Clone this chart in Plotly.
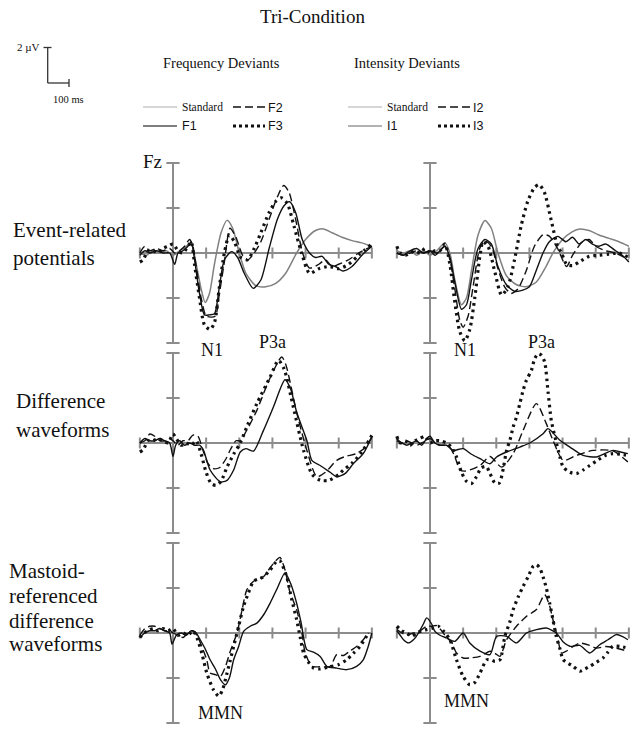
import plotly.graph_objects as go

W, H = 637, 730

# ---------------- DATA (time in ms, amplitude in µV) ----------------
# Row 1: event-related potentials, frequency deviants
erp_freq_std_t = [-100,-80,-60,-40,-20,0,20,40,55,70,85,97,110,125,145,163,180,200,220,250,280,310,340,373,400,430,454,480,510,540,570,600]
erp_freq_std_v = [0,-0.1,0.1,0,0.1,-0.1,0.1,0.3,0.4,-0.5,-1.6,-2.2,-1.8,-0.5,0.9,1.45,1.1,0,-0.9,-1.45,-1.5,-1.35,-0.9,0,0.6,1.0,1.07,0.9,0.7,0.55,0.45,0.3]
erp_freq_f1_t = [-100,-85,-70,-50,-30,-10,5,15,30,45,55,65,80,95,110,125,140,155,177,195,215,242,265,290,315,335,352,370,390,412,430,450,470,490,513,540,570,600]
erp_freq_f1_v = [-0.1,0.1,0,0.1,0,0,-0.5,0,0.1,0.3,0.5,-0.3,-1.8,-2.75,-2.75,-2.7,-1.5,-0.3,0.06,-0.2,-0.9,-1.57,-1.2,0.2,1.5,2.1,2.28,1.8,0.6,0,-0.2,-0.15,-0.5,-0.6,-0.8,-0.6,-0.1,0.3]
erp_freq_f2_t = [-100,-85,-70,-50,-30,-10,5,20,35,50,60,70,85,100,115,128,140,155,172,190,210,226,245,265,290,315,334,350,370,391,412,440,460,480,500,530,560,600]
erp_freq_f2_v = [0,0.3,0.1,0.2,0.1,0.2,0,0.1,0.3,0.6,0.3,-0.6,-2.0,-2.8,-2.85,-2.8,-1.8,-0.4,1.1,0.7,-0.1,-0.3,0,0.5,1.5,2.5,3.0,2.7,1.5,0,-0.67,-0.5,-0.3,-0.6,-0.5,-0.3,0,0.3]
erp_freq_f3_t = [-100,-90,-75,-60,-45,-30,-15,0,15,30,45,55,65,80,95,112,125,140,155,170,185,205,225,245,265,290,310,327,345,365,388,412,440,470,500,530,560,600]
erp_freq_f3_v = [-0.4,-0.3,0.1,0.1,0,0.2,0.3,0.4,0.1,0,0.3,0.5,-0.5,-2.0,-3.2,-3.4,-3.1,-1.5,0,0.8,0.5,-0.2,-0.3,0.2,0.9,1.8,2.3,2.45,2.2,1.2,0,-0.9,-0.7,-0.6,-0.7,-0.5,-0.1,0.4]

# Row 1: event-related potentials, intensity deviants
erp_int_std_t = [-100,-80,-60,-40,-20,0,20,45,60,75,95,110,125,145,166,185,205,230,260,290,320,350,371,400,430,452,480,510,540,570,600]
erp_int_std_v = [0.1,0,0.1,-0.1,0.1,-0.1,0.1,0.45,0,-1.2,-2.3,-2.0,-0.8,0.8,1.44,1.1,0,-1.0,-1.4,-1.5,-1.3,-0.6,0,0.6,0.95,1.07,1.0,0.8,0.65,0.5,0.3]
erp_int_i1_t = [-100,-80,-60,-40,-20,0,15,30,45,60,75,95,110,125,145,166,185,205,230,255,280,300,320,341,360,386,410,430,450,470,490,510,530,560,580,600]
erp_int_i1_v = [0,-0.1,0.1,0.2,0,0.1,-0.1,0.1,0.3,-0.2,-1.3,-2.5,-2.3,-1.2,0.2,0.6,0.4,-0.6,-1.4,-1.7,-1.65,-1.5,-0.8,0,0.5,0.74,0.5,0.7,0.4,0.6,0.4,0.3,0.4,0.1,-0.1,-0.4]
erp_int_i2_t = [-100,-80,-60,-40,-20,0,20,45,60,75,90,100,115,130,150,166,185,205,225,245,265,290,315,341,360,385,412,430,460,480,500,530,560,600]
erp_int_i2_v = [0,-0.1,0,0.1,0,0.1,0,0.3,-0.3,-1.6,-3.0,-3.3,-2.8,-1.5,0.2,0.55,0.3,-0.7,-1.5,-1.8,-1.6,-0.8,0.3,0.81,0.75,0.2,-0.6,-0.1,0.5,0.6,0.3,0.1,0,-0.3]
erp_int_i3_t = [-100,-90,-75,-60,-45,-30,-15,0,15,30,45,60,75,90,105,120,135,150,160,175,195,216,235,255,275,295,315,329,345,365,385,397,412,430,450,480,510,540,570,600]
erp_int_i3_v = [0.3,0,-0.1,0,0.1,0,0.2,0,0.1,0.1,0.4,-0.5,-2.2,-3.5,-3.9,-3.4,-2.0,-0.2,0.5,0.3,-0.8,-1.87,-1.5,-0.3,1.2,2.3,2.9,3.04,2.7,1.5,0.3,0,-0.5,-0.56,-0.4,-0.15,-0.1,-0.05,0,-0.2]

# Row 2: difference waveforms, frequency deviants
diff_freq_f1_t = [-100,-85,-70,-55,-40,-25,-10,0,8,20,35,50,65,80,92,112,143,163,183,203,220,243,273,303,338,355,373,404,419,444,474,494,520,545,574,600]
diff_freq_f1_v = [0,0.2,0.1,0.1,0.2,0.1,0,-0.6,-0.1,0.1,-0.1,0,-0.1,-0.1,-0.33,-1.2,-1.73,-1.66,-1.2,-0.4,-0.25,-0.36,0.56,1.6,2.81,2.4,1.38,0.1,-0.77,-1.0,-1.3,-1.5,-1.35,-0.9,-0.47,0.27]
diff_freq_f2_t = [-100,-85,-70,-55,-40,-25,-10,0,15,30,45,60,75,90,105,122,140,160,173,190,203,220,253,290,328,340,374,404,434,460,494,520,554,580,600]
diff_freq_f2_v = [0,0.1,0.4,0.3,0.1,0.1,0.2,0.1,-0.1,0.1,0.1,0.35,0.3,-0.3,-0.9,-1.14,-1.1,-0.7,-0.3,0.1,0.1,0.5,1.45,2.8,3.82,3.5,1.3,-0.33,-1.5,-1.3,-0.77,-0.6,-0.47,-0.2,0.27]
diff_freq_f3_t = [-100,-90,-75,-60,-45,-30,-15,0,10,25,40,55,70,85,100,115,130,145,163,183,203,225,253,293,318,335,363,394,420,445,470,500,514,540,570,600]
diff_freq_f3_v = [-0.4,-0.3,0.1,0.1,0.2,0.1,0,0.4,0.2,-0.1,0,-0.1,0.1,-0.5,-1.3,-1.8,-1.88,-1.7,-1.07,-0.5,0,0.8,1.75,2.93,3.67,3.3,1.6,-0.33,-1.4,-1.66,-1.66,-1.4,-1.2,-0.9,-0.4,0.34]

# Row 2: difference waveforms, intensity deviants
diff_int_i1_t = [-100,-85,-70,-55,-40,-25,-10,0,15,30,50,70,100,125,151,181,201,231,271,301,341,356,392,422,462,502,530,552,575,597]
diff_int_i1_v = [0.1,0,-0.1,0,0.1,-0.1,0.2,0.3,0,-0.1,-0.1,-0.33,-0.25,-0.5,-0.7,-0.92,-0.62,-0.4,-0.18,0,0.41,0.64,0.12,-0.18,-0.55,-0.62,-0.45,-0.33,-0.4,-0.47]
diff_int_i2_t = [-100,-85,-70,-55,-40,-25,-10,0,15,30,45,60,75,90,105,120,151,181,216,251,281,321,351,371,402,442,492,552,597]
diff_int_i2_v = [0.2,0,0.1,0,-0.1,0,0.1,0.2,0,-0.1,-0.1,-0.2,-0.6,-1.2,-1.25,-1.2,-1.0,-0.6,-1.07,-0.47,0.56,1.75,0.86,0.12,-0.77,-0.55,-0.33,-0.35,-0.84]
diff_int_i3_t = [-100,-90,-75,-60,-45,-30,-15,0,15,30,50,65,80,95,110,125,140,155,170,181,196,209,221,231,241,251,261,271,281,291,306,316,326,336,346,356,366,380,392,402,422,442,462,482,502,530,552,575,597]
diff_int_i3_v = [0.3,0,0.1,-0.1,0.1,0.2,0.3,0,0.1,0.1,0,-0.2,-0.62,-1.3,-1.7,-1.8,-1.5,-1.1,-1.05,-1.36,-1.78,-1.78,-1.14,-0.33,0.12,0.71,1.16,1.75,2.34,2.79,3.23,3.75,3.97,3.9,3.6,2.3,1.0,0.1,-0.62,-1.07,-1.3,-1.36,-1.2,-1.0,-0.8,-0.55,-0.47,-0.5,-0.55]

# Row 3: mastoid-referenced difference waveforms, frequency deviants
mast_freq_f1_t = [-100,-85,-70,-55,-40,-25,-10,-3,10,25,40,55,70,82,97,112,128,143,158,170,183,198,213,233,253,273,293,315,338,355,373,386,404,424,444,464,494,524,554,574,589,600]
mast_freq_f1_v = [-0.2,0,0.1,0.1,0.2,0.1,0,-0.5,-0.1,0,-0.1,0.1,0,-0.3,-0.7,-1.19,-1.6,-2.07,-2.3,-2.0,-1.19,-0.6,0.07,0.3,0.44,0.8,1.33,2.0,2.67,2.2,1.33,0.5,-0.74,-0.85,-1.04,-1.48,-1.56,-1.63,-1.48,-1.19,-0.6,0]
mast_freq_f2_t = [-100,-85,-70,-55,-40,-25,-10,0,15,30,45,60,72,87,102,112,128,143,158,173,193,208,223,243,273,293,313,323,338,353,373,389,399,419,444,474,494,514,534,554,574,590]
mast_freq_f2_v = [-0.1,0.2,0.3,0.3,0.2,0.1,0.1,0,-0.1,-0.2,0,0.1,-0.1,-0.6,-1.2,-1.78,-1.85,-1.93,-1.5,-0.8,0,1.0,1.93,2.3,2.5,2.9,3.26,3.36,2.8,1.8,1.04,0,-0.89,-1.48,-1.5,-1.48,-0.96,-1.0,-0.8,-0.6,-0.3,0]
mast_freq_f3_t = [-100,-88,-75,-60,-45,-30,-15,0,15,30,45,60,72,87,102,122,138,150,163,173,183,198,213,228,243,258,273,293,313,323,343,358,373,384,394,409,424,444,474,500,524,544,564,590]
mast_freq_f3_v = [-0.2,0,0.1,0.2,0.1,0.2,0.1,0.2,-0.1,0,-0.1,0.1,-0.2,-0.9,-1.78,-2.52,-2.81,-2.5,-1.78,-1.2,-0.6,0.3,1.19,1.8,2.3,2.4,2.5,2.8,3.19,3.2,2.5,1.5,0.6,-0.2,-0.89,-1.3,-1.56,-1.6,-1.5,-1.4,-1.19,-0.9,-0.6,0]

# Row 3: mastoid-referenced difference waveforms, intensity deviants
mast_int_i1_t = [-100,-90,-80,-65,-50,-35,-20,-10,5,15,30,50,75,100,120,151,181,201,231,261,291,321,351,381,402,422,452,482,512,537,562,580,597]
mast_int_i1_v = [0.1,-0.1,-0.3,-0.44,-0.3,0,0.4,0.67,0.4,0.07,-0.1,-0.22,-0.37,0,-0.44,-0.81,-0.96,-0.15,-0.15,-0.44,0,0.15,0.22,0,-0.4,-0.59,-0.55,-0.89,-0.52,-0.3,-0.07,-0.15,-0.3]
mast_int_i2_t = [-100,-85,-70,-50,-30,-10,5,20,35,50,65,80,100,125,151,181,196,211,231,261,291,321,346,361,371,385,397,412,432,452,482,502,530,560,597]
mast_int_i2_v = [0.15,0,-0.1,0,0.1,0.3,0.3,0.33,0.1,-0.2,-0.4,-0.89,-1.11,-1.1,-1.04,-0.81,-0.9,-1.04,-0.3,0.3,0.74,1.04,1.7,1.2,0.59,-0.2,-0.89,-0.8,-0.6,-0.45,-0.55,-0.67,-0.6,-0.67,-0.81]
mast_int_i3_t = [-100,-85,-70,-55,-40,-25,-10,5,25,40,60,80,100,120,135,151,171,185,196,211,226,241,251,266,281,296,311,321,331,341,351,361,371,381,392,402,417,432,452,467,482,502,522,537,552,575,597]
mast_int_i3_v = [0.3,0.1,0,-0.15,0,0.1,0.15,0.2,0.3,0.1,-0.3,-1.19,-1.93,-2.3,-2.2,-1.78,-1.19,-1.2,-1.26,-1.19,-0.15,0.5,1.04,1.6,2.07,2.5,2.96,3.04,2.9,2.5,2.0,1.33,0.6,-0.15,-0.7,-1.19,-1.35,-1.48,-1.7,-1.6,-1.48,-1.3,-1.11,-0.85,-0.59,-0.6,-0.67]

# axis tick positions
x_ticks_ms = [-100, 100, 200, 300, 400, 500, 600]
y_ticks_uv = [-4, -2, 2, 4]

# ---------------- STYLES ----------------
STYLE = {
    "std": dict(color="#808080", width=1.5),
    "s1": dict(color="#111111", width=1.4),
    "s2": dict(color="#111111", width=1.4, dash="8px,4px"),
    "s3": dict(color="#111111", width=3.2, dash="2.6px,4px"),
}
AX_COLOR = "#8c8c8c"
SERIF = "Liberation Serif, Times New Roman, serif"
SANS = "Liberation Sans, Arial, sans-serif"

panels = [
    # (row, col, [(t, v, style), ...])
    (0, 0, [(erp_freq_std_t, erp_freq_std_v, "std"), (erp_freq_f1_t, erp_freq_f1_v, "s1"),
            (erp_freq_f2_t, erp_freq_f2_v, "s2"), (erp_freq_f3_t, erp_freq_f3_v, "s3")]),
    (0, 1, [(erp_int_std_t, erp_int_std_v, "std"), (erp_int_i1_t, erp_int_i1_v, "s1"),
            (erp_int_i2_t, erp_int_i2_v, "s2"), (erp_int_i3_t, erp_int_i3_v, "s3")]),
    (1, 0, [(diff_freq_f1_t, diff_freq_f1_v, "s1"), (diff_freq_f2_t, diff_freq_f2_v, "s2"),
            (diff_freq_f3_t, diff_freq_f3_v, "s3")]),
    (1, 1, [(diff_int_i1_t, diff_int_i1_v, "s1"), (diff_int_i2_t, diff_int_i2_v, "s2"),
            (diff_int_i3_t, diff_int_i3_v, "s3")]),
    (2, 0, [(mast_freq_f1_t, mast_freq_f1_v, "s1"), (mast_freq_f2_t, mast_freq_f2_v, "s2"),
            (mast_freq_f3_t, mast_freq_f3_v, "s3")]),
    (2, 1, [(mast_int_i1_t, mast_int_i1_v, "s1"), (mast_int_i2_t, mast_int_i2_v, "s2"),
            (mast_int_i3_t, mast_int_i3_v, "s3")]),
]

# ---------------- LAYOUT GEOMETRY (pixels) ----------------
PX_PER_MS = 232 / 700.0
PX_PER_UV = 22.5
X_RANGE = [-106, 606]
Y_RANGE = [-4.15, 4.15]
COL_ZERO_X = [173, 430]
ROW_ZERO_Y = [253, 443, 633]


def fx(p):
    return p / W


def fy(p):
    return 1 - p / H


fig = go.Figure()
layout = dict(
    width=W, height=H, margin=dict(l=0, r=0, t=0, b=0),
    paper_bgcolor="white", plot_bgcolor="white", showlegend=False,
)
shapes = []
annotations = []

for (r, c, series) in panels:
    idx = r * 2 + c + 1
    sfx = "" if idx == 1 else str(idx)
    x0 = COL_ZERO_X[c]
    y0 = ROW_ZERO_Y[r]
    xd = [fx(x0 + X_RANGE[0] * PX_PER_MS), fx(x0 + X_RANGE[1] * PX_PER_MS)]
    half = Y_RANGE[1] * PX_PER_UV
    yd = [fy(y0 + half), fy(y0 - half)]
    layout["xaxis" + sfx] = dict(domain=xd, range=X_RANGE, visible=False, fixedrange=True,
                                anchor="y" + sfx)
    layout["yaxis" + sfx] = dict(domain=yd, range=Y_RANGE, visible=False, fixedrange=True,
                                anchor="x" + sfx)
    xr, yr = "x" + sfx, "y" + sfx
    # axis lines through the data scales
    shapes.append(dict(type="line", xref=xr, yref=yr, x0=0, x1=0, y0=-4, y1=4,
                       line=dict(color=AX_COLOR, width=2), layer="below"))
    shapes.append(dict(type="line", xref=xr, yref=yr, x0=-100, x1=600, y0=0, y1=0,
                       line=dict(color=AX_COLOR, width=2), layer="below"))
    for yt in y_ticks_uv:
        shapes.append(dict(type="line", xref=xr, yref=yr, x0=-20, x1=20, y0=yt, y1=yt,
                           line=dict(color=AX_COLOR, width=2), layer="below"))
    for xt in x_ticks_ms:
        shapes.append(dict(type="line", xref=xr, yref=yr, x0=xt, x1=xt, y0=-0.24, y1=0.24,
                           line=dict(color=AX_COLOR, width=2), layer="below"))
    for (t, v, st) in series:
        fig.add_trace(go.Scatter(x=t, y=v, mode="lines", xaxis=xr, yaxis=yr,
                                 line=dict(shape="spline", smoothing=0.7, **STYLE[st]),
                                 hoverinfo="skip"))


def ann(text, x, y, size, family=SERIF, xanchor="center", color="#111111"):
    annotations.append(dict(text=text, x=fx(x), y=fy(y), xref="paper", yref="paper",
                            showarrow=False, xanchor=xanchor, yanchor="middle",
                            borderpad=0,
                            font=dict(family=family, size=size, color=color)))


# titles
ann("Tri-Condition", 312, 16, 19)
ann("Frequency Deviants", 221.5, 63, 14.5)
ann("Intensity Deviants", 407, 63, 14.5)

# scale bar
SB = "#333333"
shapes += [
    dict(type="line", xref="paper", yref="paper", x0=fx(47.7), x1=fx(47.7), y0=fy(47), y1=fy(83),
         line=dict(color=SB, width=1.3)),
    dict(type="line", xref="paper", yref="paper", x0=fx(43.5), x1=fx(51.5), y0=fy(47.5), y1=fy(47.5),
         line=dict(color=SB, width=1.3)),
    dict(type="line", xref="paper", yref="paper", x0=fx(47.7), x1=fx(69), y0=fy(83), y1=fy(83),
         line=dict(color=SB, width=1.3)),
    dict(type="line", xref="paper", yref="paper", x0=fx(69), x1=fx(69), y0=fy(79), y1=fy(87),
         line=dict(color=SB, width=1.3)),
]
ann("2 µV", 41, 47, 11, xanchor="right")
ann("100 ms", 68, 99, 10.5)

# legends
def leg_line(x0, x1, y, st, color=None):
    ln = dict(STYLE[st])
    if color:
        ln["color"] = color
    if st == "s3":
        ln["dash"] = "3px,3px"
        ln["width"] = 3
    shapes.append(dict(type="line", xref="paper", yref="paper", x0=fx(x0), x1=fx(x1),
                       y0=fy(y), y1=fy(y), line=ln))


for (lx, names, s1col) in [(143, ("F1", "F2", "F3"), "#555555"), (348, ("I1", "I2", "I3"), "#999999")]:
    leg_line(lx, lx + 34, 107, "std", color="#c8c8c8")
    ann("Standard", lx + 38, 107, 11.5, xanchor="left")
    leg_line(lx + 90, lx + 122, 107, "s2")
    ann(names[1], lx + 124, 107.5, 12.5, family=SANS, xanchor="left")
    leg_line(lx, lx + 34, 126, "std", color=s1col)
    ann(names[0], lx + 38, 126.5, 12.5, family=SANS, xanchor="left")
    leg_line(lx + 90, lx + 122, 126, "s3")
    ann(names[2], lx + 124, 126.5, 12.5, family=SANS, xanchor="left")

# row labels
ann("Event-related", 12, 230, 21, xanchor="left")
ann("potentials", 12, 258, 21, xanchor="left")
ann("Difference", 15, 401, 21, xanchor="left")
ann("waveforms", 15, 430, 21, xanchor="left")
ann("Mastoid-", 8, 571, 21, xanchor="left")
ann("referenced", 8, 596, 21, xanchor="left")
ann("difference", 8, 621, 21, xanchor="left")
ann("waveforms", 8, 644, 21, xanchor="left")

# component labels
ann("Fz", 152, 162, 19)
ann("N1", 212, 350, 18)
ann("P3a", 272, 342, 18)
ann("N1", 465, 350, 18)
ann("P3a", 541, 342, 18)
ann("MMN", 220, 713, 18)
ann("MMN", 466, 701, 18)

layout["shapes"] = shapes
layout["annotations"] = annotations
fig.update_layout(**layout)
fig.write_html("out.html", config={"displayModeBar": False, "staticPlot": True},
               post_script="document.body.style.margin='0px';document.body.style.overflow='hidden';")
